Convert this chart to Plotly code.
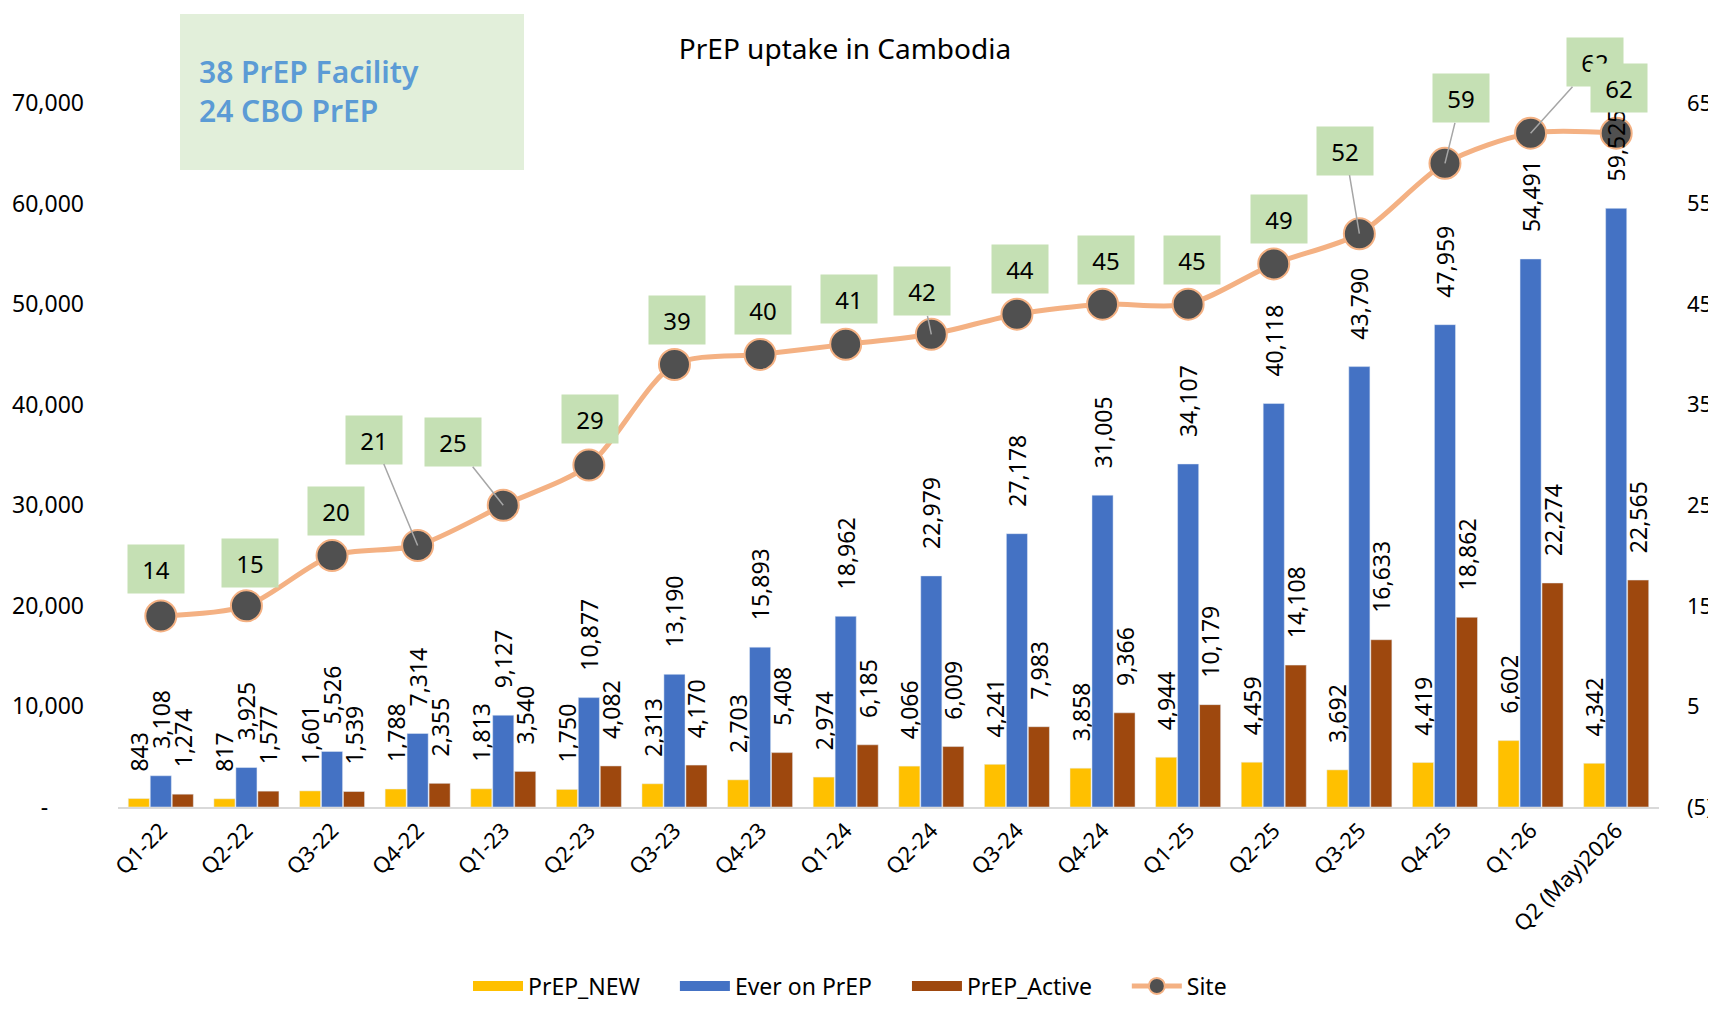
import plotly.graph_objects as go

quarters = ["Q1-22", "Q2-22", "Q3-22", "Q4-22", "Q1-23", "Q2-23", "Q3-23", "Q4-23", "Q1-24",
            "Q2-24", "Q3-24", "Q4-24", "Q1-25", "Q2-25", "Q3-25", "Q4-25", "Q1-26", "Q2 (May)2026"]
prep_new = [843, 817, 1601, 1788, 1813, 1750, 2313, 2703, 2974,
            4066, 4241, 3858, 4944, 4459, 3692, 4419, 6602, 4342]
ever_on_prep = [3108, 3925, 5526, 7314, 9127, 10877, 13190, 15893, 18962,
                22979, 27178, 31005, 34107, 40118, 43790, 47959, 54491, 59525]
prep_active = [1274, 1577, 1539, 2355, 3540, 4082, 4170, 5408, 6185,
               6009, 7983, 9366, 10179, 14108, 16633, 18862, 22274, 22565]
sites = [14, 15, 20, 21, 25, 29, 39, 40, 41, 42, 44, 45, 45, 49, 52, 59, 62, 62]

left_ticks = list(range(0, 70001, 10000))
right_ticks = list(range(-5, 66, 10))

# label box offsets (px) from each site marker, and whether a leader line shows
label_offsets = [(-5, -47), (4, -43), (4, -45), (-44, -106), (-50, -63), (1, -46),
                 (3, -44), (3, -44), (3, -45), (-9, -43), (3, -45), (3, -44),
                 (4, -44), (5, -45), (-14, -83), (16, -65), (64, -71), (3, -45)]
leaders = [False, False, False, True, True, False, False, False, False, True,
           False, False, False, False, True, True, True, False]

FONT = "Noto Sans"
PAGE = 8  # body margin of the html page
W, H = 1716 - PAGE, 1010 - 2 * PAGE
L, R, T, B = 118 - PAGE, 1659 - PAGE, 103 - PAGE, 807 - PAGE
PAD = "\u00a0" * 5  # spacing between legend entries
LIFT = "\u00a0" * 4  # lifts the rotated bar labels off the bar tops


def px(x):
    # page pixel -> paper fraction
    return (x - PAGE - L) / (R - L)


def py(y):
    return (B - (y - PAGE)) / (B - T)


series = [("PrEP_NEW", prep_new, "#FFC000"),
          ("Ever on PrEP", ever_on_prep, "#4472C4"),
          ("PrEP_Active", prep_active, "#9E480E")]

fig = go.Figure()

# site line on the (right) primary axis so bar labels draw above it
fig.add_trace(go.Scatter(
    x=quarters, y=sites, name="Site", yaxis="y", mode="lines+markers",
    line=dict(color="#F4B183", width=5, shape="spline", smoothing=0.8),
    marker=dict(size=31, color="#505050", line=dict(color="#F4B183", width=2)),
    cliponaxis=False, legendrank=10,
))

for i, (name, vals, color) in enumerate(series):
    fig.add_trace(go.Bar(
        x=quarters, y=vals, name=name, yaxis="y2", marker_color=color,
        showlegend=False, legendgroup=name,
        text=[LIFT + f"{v:,}" for v in vals], textposition="outside", textangle=-90,
        constraintext="none", cliponaxis=False,
        textfont=dict(size=23, color="black", family=FONT),
    ))
    # wide legend swatch for the bar series
    fig.add_trace(go.Scatter(
        x=[None], y=[None], mode="lines", name=name + PAD, legendgroup=name,
        line=dict(color=color, width=17), legendrank=i + 1,
    ))

for q, s, (dx, dy), lead in zip(quarters, sites, label_offsets, leaders):
    fig.add_annotation(
        x=q, y=s, yref="y", text=str(s), showarrow=True, ax=dx, ay=dy,
        arrowhead=0, arrowwidth=1.5, standoff=0,
        arrowcolor="#A6A6A6" if lead else "rgba(0,0,0,0)",
        bgcolor="#C5E0B4", width=52, height=44, borderpad=2,
        font=dict(size=24, color="black", family=FONT),
    )

fig.add_shape(type="rect", xref="paper", yref="paper",
              x0=px(180), x1=px(524), y0=py(170), y1=py(14),
              fillcolor="#E2EFDA", line_width=0, layer="below")
fig.add_annotation(xref="paper", yref="paper", x=px(197), y=py(91),
                   xanchor="left", yanchor="middle", align="left", showarrow=False,
                   text="38 PrEP Facility<br>24 CBO PrEP",
                   font=dict(size=30, color="#5B9BD5", family=FONT, weight=600))

fig.update_layout(
    width=W, height=H,
    margin=dict(l=L, r=W - R, t=T, b=H - B),
    plot_bgcolor="white", paper_bgcolor="white",
    font=dict(family=FONT, size=21, color="black"),
    title=dict(text="PrEP uptake in Cambodia", x=(845 - PAGE) / W, xanchor="center",
               y=1 - 41 / H, yanchor="middle", font=dict(size=28, family=FONT)),
    barmode="group", bargap=0.23, bargroupgap=0.04,
    xaxis=dict(range=[-0.5, len(quarters) - 0.5], tickangle=-45, showline=True,
               linecolor="#D9D9D9", linewidth=2, ticks="", tickfont=dict(size=22),
               automargin=False),
    yaxis=dict(range=[-5, 65], tickvals=right_ticks, side="right",
               ticktext=[f"({-v})" if v < 0 else str(v) for v in right_ticks],
               showgrid=False, zeroline=False, ticklabelstandoff=27,
               tickfont=dict(size=22), automargin=False),
    yaxis2=dict(range=[0, 70000], tickvals=left_ticks, side="left", overlaying="y",
                ticktext=[f"{v:,}" if v else "-      " for v in left_ticks],
                showgrid=False, zeroline=False, ticklabelstandoff=33,
                tickfont=dict(size=23), automargin=False),
    legend=dict(orientation="h", x=px(850), xanchor="center",
                yref="container", y=1 - (986 - PAGE) / H, yanchor="middle",
                font=dict(size=23), itemwidth=50, traceorder="normal"),
    showlegend=True,
)

fig.write_html("out.html")
